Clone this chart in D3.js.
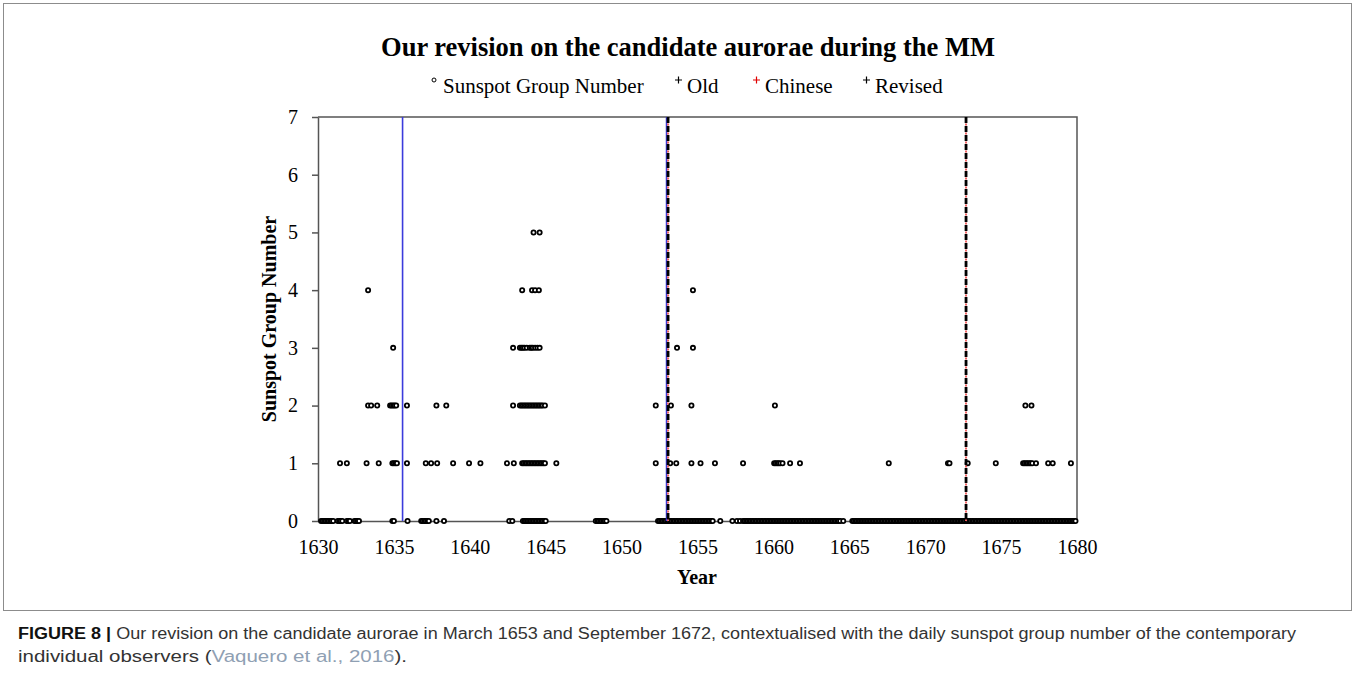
<!DOCTYPE html>
<html>
<head>
<meta charset="utf-8">
<script src="https://cdn.jsdelivr.net/npm/d3@7"></script>
<style>
	body { margin: 0; background: #fff; }
	svg { display: block; }
</style>
</head>
<body>
<svg id="graphic" width="1355" height="674"></svg>
<script>
// Daily sunspot group number, one array of years per group count
var group0 = [
	1630.2, 1630.3, 1630.4, 1630.5, 1630.6, 1630.7, 1630.8, 1630.9, 1631.0,
	1631.3, 1631.4, 1631.5, 1631.6, 1631.9, 1632.0, 1632.1, 1632.4, 1632.5, 1632.6, 1632.7,
	1634.9, 1635.0, 1635.9,
	1636.8, 1636.9, 1637.0, 1637.1, 1637.2, 1637.3, 1637.8, 1638.3,
	1642.6, 1642.8,
	1643.5, 1643.6, 1643.7, 1643.8, 1643.9, 1644.0, 1644.1, 1644.2, 1644.3, 1644.4, 1644.5,
	1644.6, 1644.7, 1644.8, 1644.9, 1645.0,
	1648.3, 1648.4, 1648.5, 1648.6, 1648.7, 1648.8, 1648.9, 1649.0,
	1652.4, 1652.5, 1652.6, 1652.7, 1652.8, 1652.9, 1653.0, 1653.1, 1653.2, 1653.3, 1653.4,
	1653.5, 1653.6, 1653.7, 1653.8, 1653.9, 1654.0, 1654.1, 1654.2, 1654.3, 1654.4, 1654.5,
	1654.6, 1654.7, 1654.8, 1654.9, 1655.0, 1655.1, 1655.2, 1655.3, 1655.4, 1655.5, 1655.6,
	1655.7, 1655.8, 1655.9, 1656.0, 1656.5,
	1657.3, 1657.6, 1657.8,
	1658.0, 1658.1, 1658.2, 1658.3, 1658.4, 1658.5, 1658.6, 1658.7, 1658.8, 1658.9,
	1659.0, 1659.1, 1659.2, 1659.3, 1659.4, 1659.5, 1659.6, 1659.7, 1659.8, 1659.9,
	1660.0, 1660.1, 1660.2, 1660.3, 1660.4, 1660.5, 1660.6, 1660.7, 1660.8, 1660.9,
	1661.0, 1661.1, 1661.2, 1661.3, 1661.4, 1661.5, 1661.6, 1661.7, 1661.8, 1661.9,
	1662.0, 1662.1, 1662.2, 1662.3, 1662.4, 1662.5, 1662.6, 1662.7, 1662.8, 1662.9,
	1663.0, 1663.1, 1663.2, 1663.3, 1663.4, 1663.5, 1663.6, 1663.7, 1663.8, 1663.9,
	1664.0, 1664.1, 1664.2, 1664.3, 1664.4, 1664.6,
	1665.2, 1665.3, 1665.4, 1665.5, 1665.6, 1665.7, 1665.8, 1665.9,
	1666.0, 1666.1, 1666.2, 1666.3, 1666.4, 1666.5, 1666.6, 1666.7, 1666.8, 1666.9,
	1667.0, 1667.1, 1667.2, 1667.3, 1667.4, 1667.5, 1667.6, 1667.7, 1667.8, 1667.9,
	1668.0, 1668.1, 1668.2, 1668.3, 1668.4, 1668.5, 1668.6, 1668.7, 1668.8, 1668.9,
	1669.0, 1669.1, 1669.2, 1669.3, 1669.4, 1669.5, 1669.6, 1669.7, 1669.8, 1669.9,
	1670.0, 1670.1, 1670.2, 1670.3, 1670.4, 1670.5, 1670.6, 1670.7, 1670.8, 1670.9,
	1671.0, 1671.1, 1671.2, 1671.3, 1671.4, 1671.5, 1671.6, 1671.7, 1671.8, 1671.9,
	1672.0, 1672.1, 1672.2, 1672.3, 1672.4, 1672.5, 1672.6, 1672.7, 1672.8, 1672.9,
	1673.0, 1673.1, 1673.2, 1673.3, 1673.4, 1673.5, 1673.6, 1673.7, 1673.8, 1673.9,
	1674.0, 1674.1, 1674.2, 1674.3, 1674.4, 1674.5, 1674.6, 1674.7, 1674.8, 1674.9,
	1675.0, 1675.1, 1675.2, 1675.3, 1675.4, 1675.5, 1675.6, 1675.7, 1675.8, 1675.9,
	1676.0, 1676.1, 1676.2, 1676.3, 1676.4, 1676.5, 1676.6, 1676.7, 1676.8, 1676.9,
	1677.0, 1677.1, 1677.2, 1677.3, 1677.4, 1677.5, 1677.6, 1677.7, 1677.8, 1677.9,
	1678.0, 1678.1, 1678.2, 1678.3, 1678.4, 1678.5, 1678.6, 1678.7, 1678.8, 1678.9,
	1679.0, 1679.1, 1679.2, 1679.3, 1679.4, 1679.5, 1679.6, 1679.7, 1679.8, 1679.9
];
var group1 = [
	1631.45, 1631.9, 1633.2, 1634.0, 1634.9, 1635.0, 1635.1, 1635.2, 1635.86,
	1637.1, 1637.45, 1637.85, 1638.9, 1639.95, 1640.7, 1642.45, 1642.9,
	1643.45, 1643.55, 1643.65, 1643.75, 1643.85, 1643.95, 1644.05, 1644.15, 1644.25, 1644.35,
	1644.45, 1644.55, 1644.65, 1644.75, 1644.85, 1644.95,
	1645.7, 1652.25, 1653.2, 1653.6, 1654.6, 1655.2, 1656.15, 1658.0,
	1660.05, 1660.15, 1660.25, 1660.35, 1660.45, 1660.6, 1661.1, 1661.75, 1667.6, 1671.5, 1671.6,
	1672.8, 1674.65, 1676.45, 1676.55, 1676.65, 1676.75, 1676.85, 1676.95, 1677.05, 1677.3,
	1678.1, 1678.4, 1679.6
];
var group2 = [
	1633.3, 1633.5, 1633.9, 1634.75, 1634.85, 1634.95, 1635.05, 1635.15, 1635.86, 1637.8, 1638.45,
	1642.85, 1643.3, 1643.4, 1643.5, 1643.6, 1643.7, 1643.8, 1643.9, 1644.0, 1644.1, 1644.2,
	1644.3, 1644.4, 1644.5, 1644.6, 1644.7, 1644.8, 1644.95,
	1652.25, 1653.25, 1654.6, 1660.1, 1676.6, 1677.0
];
var group3 = [
	1634.95, 1642.85, 1643.3, 1643.4, 1643.5, 1643.6, 1643.75, 1643.95, 1644.05, 1644.15,
	1644.3, 1644.45, 1644.6, 1653.65, 1654.7
];
var group4 = [1633.3, 1643.45, 1644.1, 1644.3, 1644.55, 1654.7];
var group5 = [1644.2, 1644.6];

// Candidate aurora dates
var oldYears = [1635.67, 1653.06];
var chineseYears = [1653.06, 1672.69];
var revisedYears = [1653.06, 1672.69];

var xTicks = [1630, 1635, 1640, 1645, 1650, 1655, 1660, 1665, 1670, 1675, 1680];
var yTicks = [0, 1, 2, 3, 4, 5, 6, 7];

var legendLabels = ["Sunspot Group Number", "Old", "Chinese", "Revised"];

var SERIF = "'Liberation Serif', 'Times New Roman', serif";
var SANS = "'Liberation Sans', Arial, sans-serif";

function drawChart() {
	var svg = d3.select("svg");

	// outer figure frame
	svg.append("rect")
		.attr("x", 3.5).attr("y", 3.5)
		.attr("width", 1348).attr("height", 607)
		.attr("fill", "none")
		.attr("stroke", "#8c8c8c")
		.attr("stroke-width", 1);

	var x = d3.scaleLinear().domain([1630, 1680]).range([318, 1077]);
	var y = d3.scaleLinear().domain([0, 7]).range([521, 117]);

	// title
	svg.append("text")
		.attr("x", 688).attr("y", 56)
		.attr("text-anchor", "middle")
		.attr("font-family", SERIF)
		.attr("font-weight", "bold")
		.attr("font-size", 26.5)
		.text("Our revision on the candidate aurorae during the MM");

	// legend (marker x, then label right after it)
	var legX = [432, 676, 754, 864];
	var legColor = ["#000", "#000", "#e00000", "#000"];
	var leg = svg.append("g").attr("font-family", SERIF).attr("font-size", 21);
	for (var i = 0; i < legendLabels.length; i++) {
		if (i == 0) {
			leg.append("circle")
				.attr("cx", legX[i] + 2).attr("cy", 80).attr("r", 2)
				.attr("fill", "#fff").attr("stroke", "#000").attr("stroke-width", 1);
		} else {
			leg.append("path")
				.attr("d", "M" + (legX[i] - 1) + ",80H" + (legX[i] + 6) + "M" + (legX[i] + 2.5) + ",76.5V83.5")
				.attr("stroke", legColor[i]).attr("stroke-width", 1.2);
		}
		leg.append("text")
			.attr("x", legX[i] + 11).attr("y", 93)
			.attr("fill", "#000")
			.text(legendLabels[i]);
	}

	// plot frame (top and right)
	svg.append("path")
		.attr("d", "M318,117H1077V521")
		.attr("fill", "none")
		.attr("stroke", "#555")
		.attr("stroke-width", 1.5);

	// axes
	var yAxis = svg.append("g")
		.attr("transform", "translate(" + x(1630) + ",0)")
		.call(d3.axisLeft(y).tickValues(yTicks).tickSize(6).tickSizeOuter(0).tickPadding(14).tickFormat(d3.format("d")));

	var xAxis = svg.append("g")
		.attr("transform", "translate(0," + y(0) + ")")
		.call(d3.axisBottom(x).tickValues(xTicks).tickSize(0).tickSizeOuter(0).tickPadding(19).tickFormat(d3.format("d")));

	[xAxis, yAxis].forEach(function(ax) {
		ax.attr("font-family", SERIF).attr("font-size", 20);
		ax.selectAll("text").attr("fill", "#000");
		ax.selectAll("line, .domain").attr("stroke", "#555").attr("stroke-width", 1.5);
	});

	// axis titles
	svg.append("text")
		.attr("transform", "translate(276,319) rotate(-90)")
		.attr("text-anchor", "middle")
		.attr("font-family", SERIF)
		.attr("font-weight", "bold")
		.attr("font-size", 20)
		.text("Sunspot Group Number");

	svg.append("text")
		.attr("x", 697).attr("y", 584)
		.attr("text-anchor", "middle")
		.attr("font-family", SERIF)
		.attr("font-weight", "bold")
		.attr("font-size", 20)
		.text("Year");

	// sunspot points
	var groups = [group0, group1, group2, group3, group4, group5];
	var points = [];
	for (var g = 0; g < groups.length; g++) {
		for (var k = 0; k < groups[g].length; k++) {
			points.push({ year: groups[g][k], n: g });
		}
	}

	svg.append("g").selectAll("circle")
		.data(points)
		.enter().append("circle")
			.attr("cx", function(d) { return x(d.year); })
			.attr("cy", function(d) { return y(d.n); })
			.attr("r", 2.1)
			.attr("fill", "#fff")
			.attr("stroke", "#000")
			.attr("stroke-width", 1.8);

	// aurora lines: old (blue), revised (black dashed), chinese (red dotted)
	var lines = svg.append("g");
	lines.selectAll(".old").data(oldYears)
		.enter().append("line")
			.attr("class", "old")
			.attr("x1", function(d) { return x(d) - 1.5; }).attr("x2", function(d) { return x(d) - 1.5; })
			.attr("y1", y(7)).attr("y2", y(0))
			.attr("stroke", "#3b3bdc").attr("stroke-width", 1.6);

	lines.selectAll(".revised").data(revisedYears)
		.enter().append("line")
			.attr("class", "revised")
			.attr("x1", function(d) { return x(d); }).attr("x2", function(d) { return x(d); })
			.attr("y1", y(7)).attr("y2", y(0))
			.attr("stroke", "#000").attr("stroke-width", 2.8)
			.attr("stroke-dasharray", "6,3");

	lines.selectAll(".chinese").data(chineseYears)
		.enter().append("line")
			.attr("class", "chinese")
			.attr("x1", function(d) { return x(d); }).attr("x2", function(d) { return x(d); })
			.attr("y1", y(7) + 6.5).attr("y2", y(0))
			.attr("stroke", "#f06060").attr("stroke-width", 2)
			.attr("stroke-dasharray", "2,7");

	// caption
	var cap = svg.append("g")
		.attr("font-family", SANS)
		.attr("font-size", 16)
		.attr("fill", "#333");

	var line1 = cap.append("text").attr("x", 18).attr("y", 639).attr("textLength", 1278).attr("lengthAdjust", "spacingAndGlyphs");
	line1.append("tspan").attr("font-weight", "bold").attr("fill", "#111").text("FIGURE 8 | ");
	line1.append("tspan").text("Our revision on the candidate aurorae in March 1653 and September 1672, contextualised with the daily sunspot group number of the contemporary");

	var line2 = cap.append("text").attr("x", 18).attr("y", 662).attr("textLength", 389).attr("lengthAdjust", "spacingAndGlyphs");
	line2.append("tspan").text("individual observers (");
	line2.append("tspan").attr("fill", "#8fa0b3").text("Vaquero et al., 2016");
	line2.append("tspan").text(").");
}

drawChart();
</script>
</body>
</html>
